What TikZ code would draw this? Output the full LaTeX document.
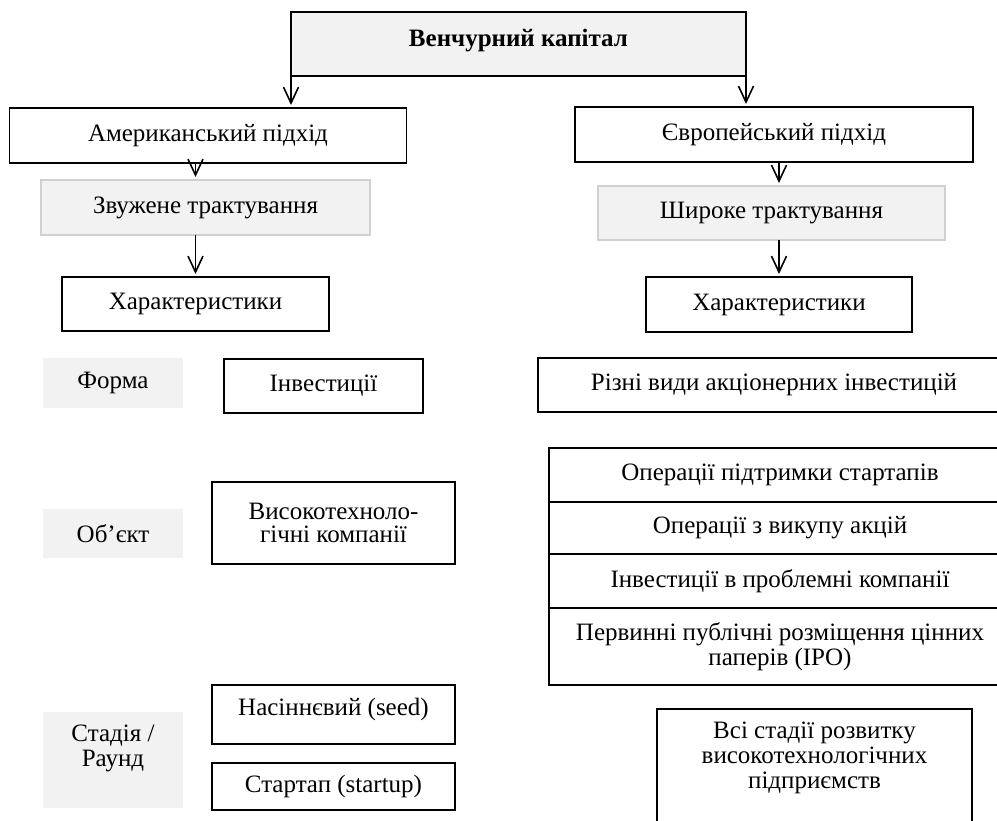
\documentclass[tikz,border=0pt]{standalone}
\usepackage{fontspec}
\setmainfont{Liberation Serif}
\usetikzlibrary{arrows.meta}
\definecolor{boxgray}{HTML}{F2F2F2}
\definecolor{edgegray}{HTML}{D0D0D0}
\begin{document}
\begin{tikzpicture}[x=1pt,y=-1pt,
  every node/.style={font=\fontsize{25}{25}\selectfont, inner sep=0pt, outer sep=0pt, align=center},
  blk/.style={draw=black, line width=1.6pt, fill=white},
  graybox/.style={draw=edgegray, line width=1.2pt, fill=boxgray},
  label box/.style={fill=boxgray},
  arr/.style={line width=1.6pt, -{Straight Barb[length=16pt,width=15pt]}, shorten >=3pt},
]
\useasboundingbox (0,0) rectangle (997,821);
% top
\node[blk, fill=boxgray, minimum width=455pt, minimum height=64pt, text depth=13pt, font=\fontsize{25}{25}\selectfont\bfseries] (top) at (518.5,44) {Венчурний капітал};
% approaches
\node[blk, minimum width=397pt, minimum height=55pt] (am) at (208,135.5) {Американський підхід};
\node[blk, minimum width=398pt, minimum height=55pt] (eu) at (774,134.5) {Європейський підхід};
\node[graybox, minimum width=329pt, minimum height=55pt] (zv) at (205.5,207.5) {Звужене трактування};
\node[graybox, minimum width=347pt, minimum height=54pt] (sh) at (771.5,213) {Широке трактування};
\node[blk, minimum width=267pt, minimum height=54pt] (chL) at (195.5,304) {Характеристики};
\node[blk, minimum width=266pt, minimum height=55pt] (chR) at (779,304.5) {Характеристики};
% row labels
\node[label box, minimum width=140pt, minimum height=50pt] (forma) at (113,383) {Форма};
\node[label box, minimum width=140pt, minimum height=49pt] (ob) at (113,533.5) {Об’єкт};
\node[label box, minimum width=140pt, minimum height=96pt, text depth=29pt] (st) at (113,760) {Стадія /\\Раунд};
% left column
\node[blk, minimum width=199pt, minimum height=54pt] (inv) at (323.5,386) {Інвестиції};
\node[blk, minimum width=243pt, minimum height=82pt, font=\fontsize{25}{23}\selectfont] (vys) at (333.5,523) {Високотехноло-\\гічні компанії};
\node[blk, minimum width=243pt, minimum height=59pt, text depth=15pt] (seed) at (333.5,714.5) {Насіннєвий (seed)};
\node[blk, minimum width=243pt, minimum height=47pt] (start) at (333.5,786.5) {Стартап (startup)};
% right column
\node[blk, minimum width=472pt, minimum height=54pt] (rizni) at (774,385) {Різні види акціонерних інвестицій};
\node[blk, minimum width=462pt, minimum height=54pt] (op1) at (780,475) {Операції підтримки стартапів};
\node[blk, minimum width=462pt, minimum height=52pt] (op2) at (780,528) {Операції з викупу акцій};
\node[blk, minimum width=462pt, minimum height=54pt] (op3) at (780,581) {Інвестиції в проблемні компанії};
\node[blk, minimum width=462pt, minimum height=77pt] (op4) at (780,646.5) {Первинні публічні розміщення цінних\\паперів (IPO)};
\node[blk, minimum width=315pt, minimum height=141pt] (all) at (814.5,779.5) {};
\node[anchor=north, yshift=-13pt] (allt) at (all.north) {Всі стадії розвитку\\високотехнологічних\\підприємств};
% connectors
\draw[arr] (top.south west) -- (top.south west |- am.north);
\draw[arr] (top.south east) -- (top.south east |- eu.north);
\draw[arr] (chL.north |- am.south) -- (chL.north |- zv.north);
\draw[arr] (chL.north |- zv.south) -- (chL.north);
\draw[arr] (chR.north |- eu.south) -- (chR.north |- sh.north);
\draw[arr] (chR.north |- sh.south) -- (chR.north);
\end{tikzpicture}
\end{document}
